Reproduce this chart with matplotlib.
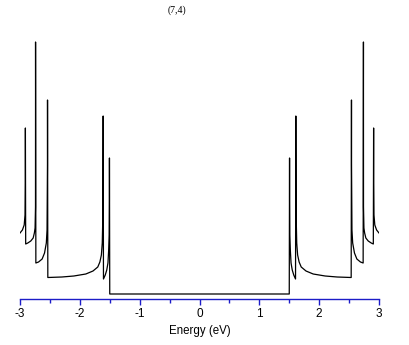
import numpy as np
import matplotlib
matplotlib.use("Agg")
import matplotlib.pyplot as plt

# Density of states, positive-energy half (curve is symmetric about E = 0)
energy_pos = [0.000, 1.500, 1.505, 1.506, 1.510, 1.518, 1.530, 1.550, 1.575, 1.605,
              1.610, 1.611, 1.615, 1.625, 1.640, 1.665, 1.700, 1.780, 1.900, 2.100,
              2.300, 2.535, 2.540, 2.541, 2.548, 2.560, 2.590, 2.630, 2.690, 2.735,
              2.740, 2.741, 2.748, 2.760, 2.780, 2.820, 2.870, 2.905, 2.910, 2.911,
              2.916, 2.930, 2.960, 3.000]
dos_pos = [0.05, 0.05, 1.41, 0.99, 0.64, 0.49, 0.36, 0.29, 0.24, 0.20,
           1.83, 1.59, 0.84, 0.56, 0.44, 0.37, 0.32, 0.28, 0.25, 0.23,
           0.22, 0.215, 1.99, 1.34, 0.69, 0.56, 0.46, 0.40, 0.37, 0.36,
           2.57, 0.92, 0.71, 0.66, 0.61, 0.58, 0.56, 0.55, 1.71, 1.16,
           0.84, 0.74, 0.69, 0.66]

title_text = "(7,4)"
xlabel_text = "Energy (eV)"
major_ticks = [-3, -2, -1, 0, 1, 2, 3]
minor_ticks = [-2.5, -1.5, -0.5, 0.5, 1.5, 2.5]
tick_labels = ["-3", "-2", "-1", "0", "1", "2", "3"]

ep = np.array(energy_pos)
dp = np.array(dos_pos)
energy = np.concatenate([-ep[::-1], ep[1:]])
dos = np.concatenate([dp[::-1], dp[1:]])

W, H = 409, 345
fig = plt.figure(figsize=(W / 100, H / 100), dpi=100)
ax = fig.add_axes([20 / W, 46 / H, 359 / W, 279 / H])
ax.plot(energy, dos, color="black", lw=0.9)
ax.set_xlim(-3, 3)
ax.set_ylim(0, 2.79)

blue = "#1c1cc8"
for s in ["top", "left", "right"]:
    ax.spines[s].set_visible(False)
ax.spines["bottom"].set_color(blue)
ax.spines["bottom"].set_linewidth(1.0)
ax.set_yticks([])
ax.set_xticks(major_ticks)
ax.set_xticklabels(tick_labels)
ax.set_xticks(minor_ticks, minor=True)
ax.tick_params(axis="x", which="major", direction="out", length=4.3, width=1.0,
               color=blue, pad=2.5, labelsize=8.5, labelfontfamily="Liberation Sans")
ax.tick_params(axis="x", which="minor", direction="out", length=3.2, width=1.0, color=blue)
ax.set_xlabel(xlabel_text, fontsize=8.3, family="Liberation Sans", labelpad=3)

fig.text(177 / W, 1 - 10 / H, title_text, ha="center", va="center",
         fontsize=7, family="Liberation Serif")

fig.savefig("out.png", dpi=100, facecolor="white")
